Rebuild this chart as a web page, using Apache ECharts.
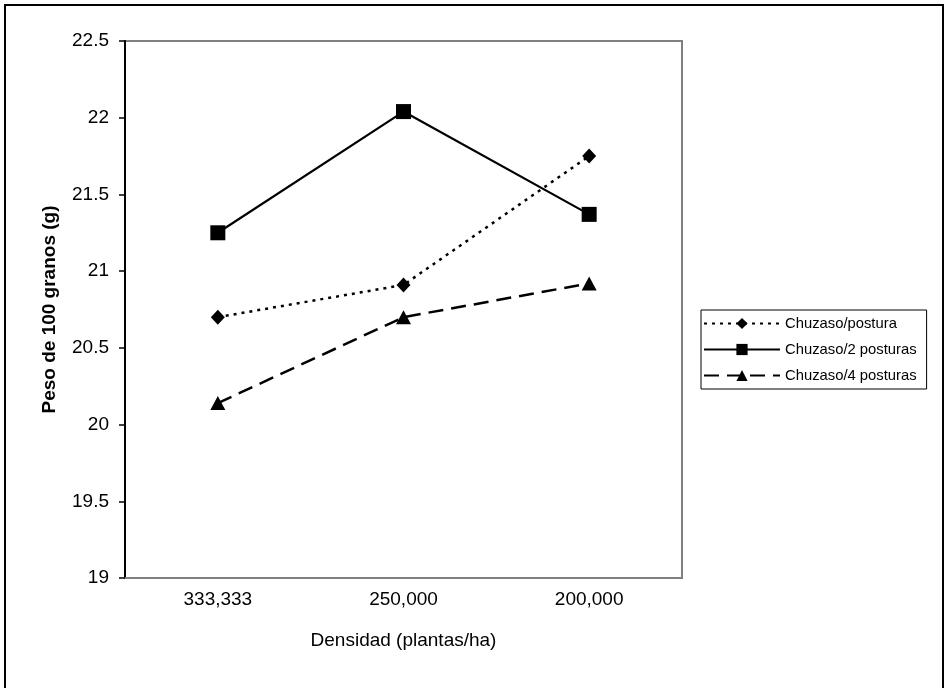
<!DOCTYPE html>
<html>
<head>
<meta charset="utf-8">
<script src="https://cdn.jsdelivr.net/npm/echarts@6/dist/echarts.min.js"></script>
<style>html,body{margin:0;padding:0;background:#fff;}#c{width:945px;height:688px;}</style>
</head>
<body>
<div id="c"></div>
<script>
const categories = ['333,333', '250,000', '200,000'];
const seriesNames = ['Chuzaso/postura', 'Chuzaso/2 posturas', 'Chuzaso/4 posturas'];
const postura1 = [20.70, 20.91, 21.75];
const posturas2 = [21.25, 22.04, 21.37];
const posturas4 = [20.14, 20.70, 20.92];
const yMin = 19, yMax = 22.5, yStep = 0.5;

const FONT = '"Liberation Sans", Arial, sans-serif';
const chart = echarts.init(document.getElementById('c'), null, {renderer: 'canvas'});
chart.setOption({
  backgroundColor: '#ffffff',
  animation: false,
  graphic: [{
    type: 'rect', shape: {x: 5, y: 5, width: 938, height: 720},
    style: {fill: 'none', stroke: '#000', lineWidth: 2}, silent: true, z: 100
  }],
  grid: {left: 125, top: 41, right: 263, bottom: 110, show: true, borderColor: '#808080', borderWidth: 2, backgroundColor: 'transparent'},
  legend: {
    orient: 'vertical', left: 701, top: 310,
    padding: [6, 10, 6, 2], itemGap: 11, itemWidth: 76, itemHeight: 14,
    borderColor: '#000', borderWidth: 1, backgroundColor: '#fff',
    textStyle: {fontFamily: FONT, fontSize: 14.8, color: '#000'},
    data: seriesNames
  },
  xAxis: {
    type: 'category', data: categories, boundaryGap: true,
    axisLine: {show: true, lineStyle: {color: '#808080', width: 2}},
    axisTick: {show: false},
    axisLabel: {fontFamily: FONT, fontSize: 19, color: '#000', margin: 12},
    name: 'Densidad (plantas/ha)', nameLocation: 'middle', nameGap: 53,
    nameTextStyle: {fontFamily: FONT, fontSize: 19, color: '#000'},
    splitLine: {show: false}
  },
  yAxis: {
    type: 'value', min: yMin, max: yMax, interval: yStep,
    axisLine: {show: true, lineStyle: {color: '#000', width: 2}},
    axisTick: {show: true, inside: false, length: 6, lineStyle: {color: '#000', width: 1.5}},
    axisLabel: {fontFamily: FONT, fontSize: 19, color: '#000', margin: 16},
    name: 'Peso de 100 granos (g)', nameLocation: 'middle', nameGap: 66,
    nameTextStyle: {fontFamily: FONT, fontSize: 19, fontWeight: 'bold', color: '#000'},
    splitLine: {show: false}
  },
  series: [
    {
      name: seriesNames[0], type: 'line', data: postura1,
      symbol: 'diamond', symbolSize: [14, 15],
      lineStyle: {color: '#000', width: 2.5, type: [3, 5]},
      itemStyle: {color: '#000'}
    },
    {
      name: seriesNames[1], type: 'line', data: posturas2,
      symbol: 'rect', symbolSize: 15,
      lineStyle: {color: '#000', width: 2.2, type: 'solid'},
      itemStyle: {color: '#000'}
    },
    {
      name: seriesNames[2], type: 'line', data: posturas4,
      symbol: 'triangle', symbolSize: [15, 14],
      lineStyle: {color: '#000', width: 2.5, type: [15, 8]},
      itemStyle: {color: '#000'}
    }
  ]
});
</script>
</body>
</html>
